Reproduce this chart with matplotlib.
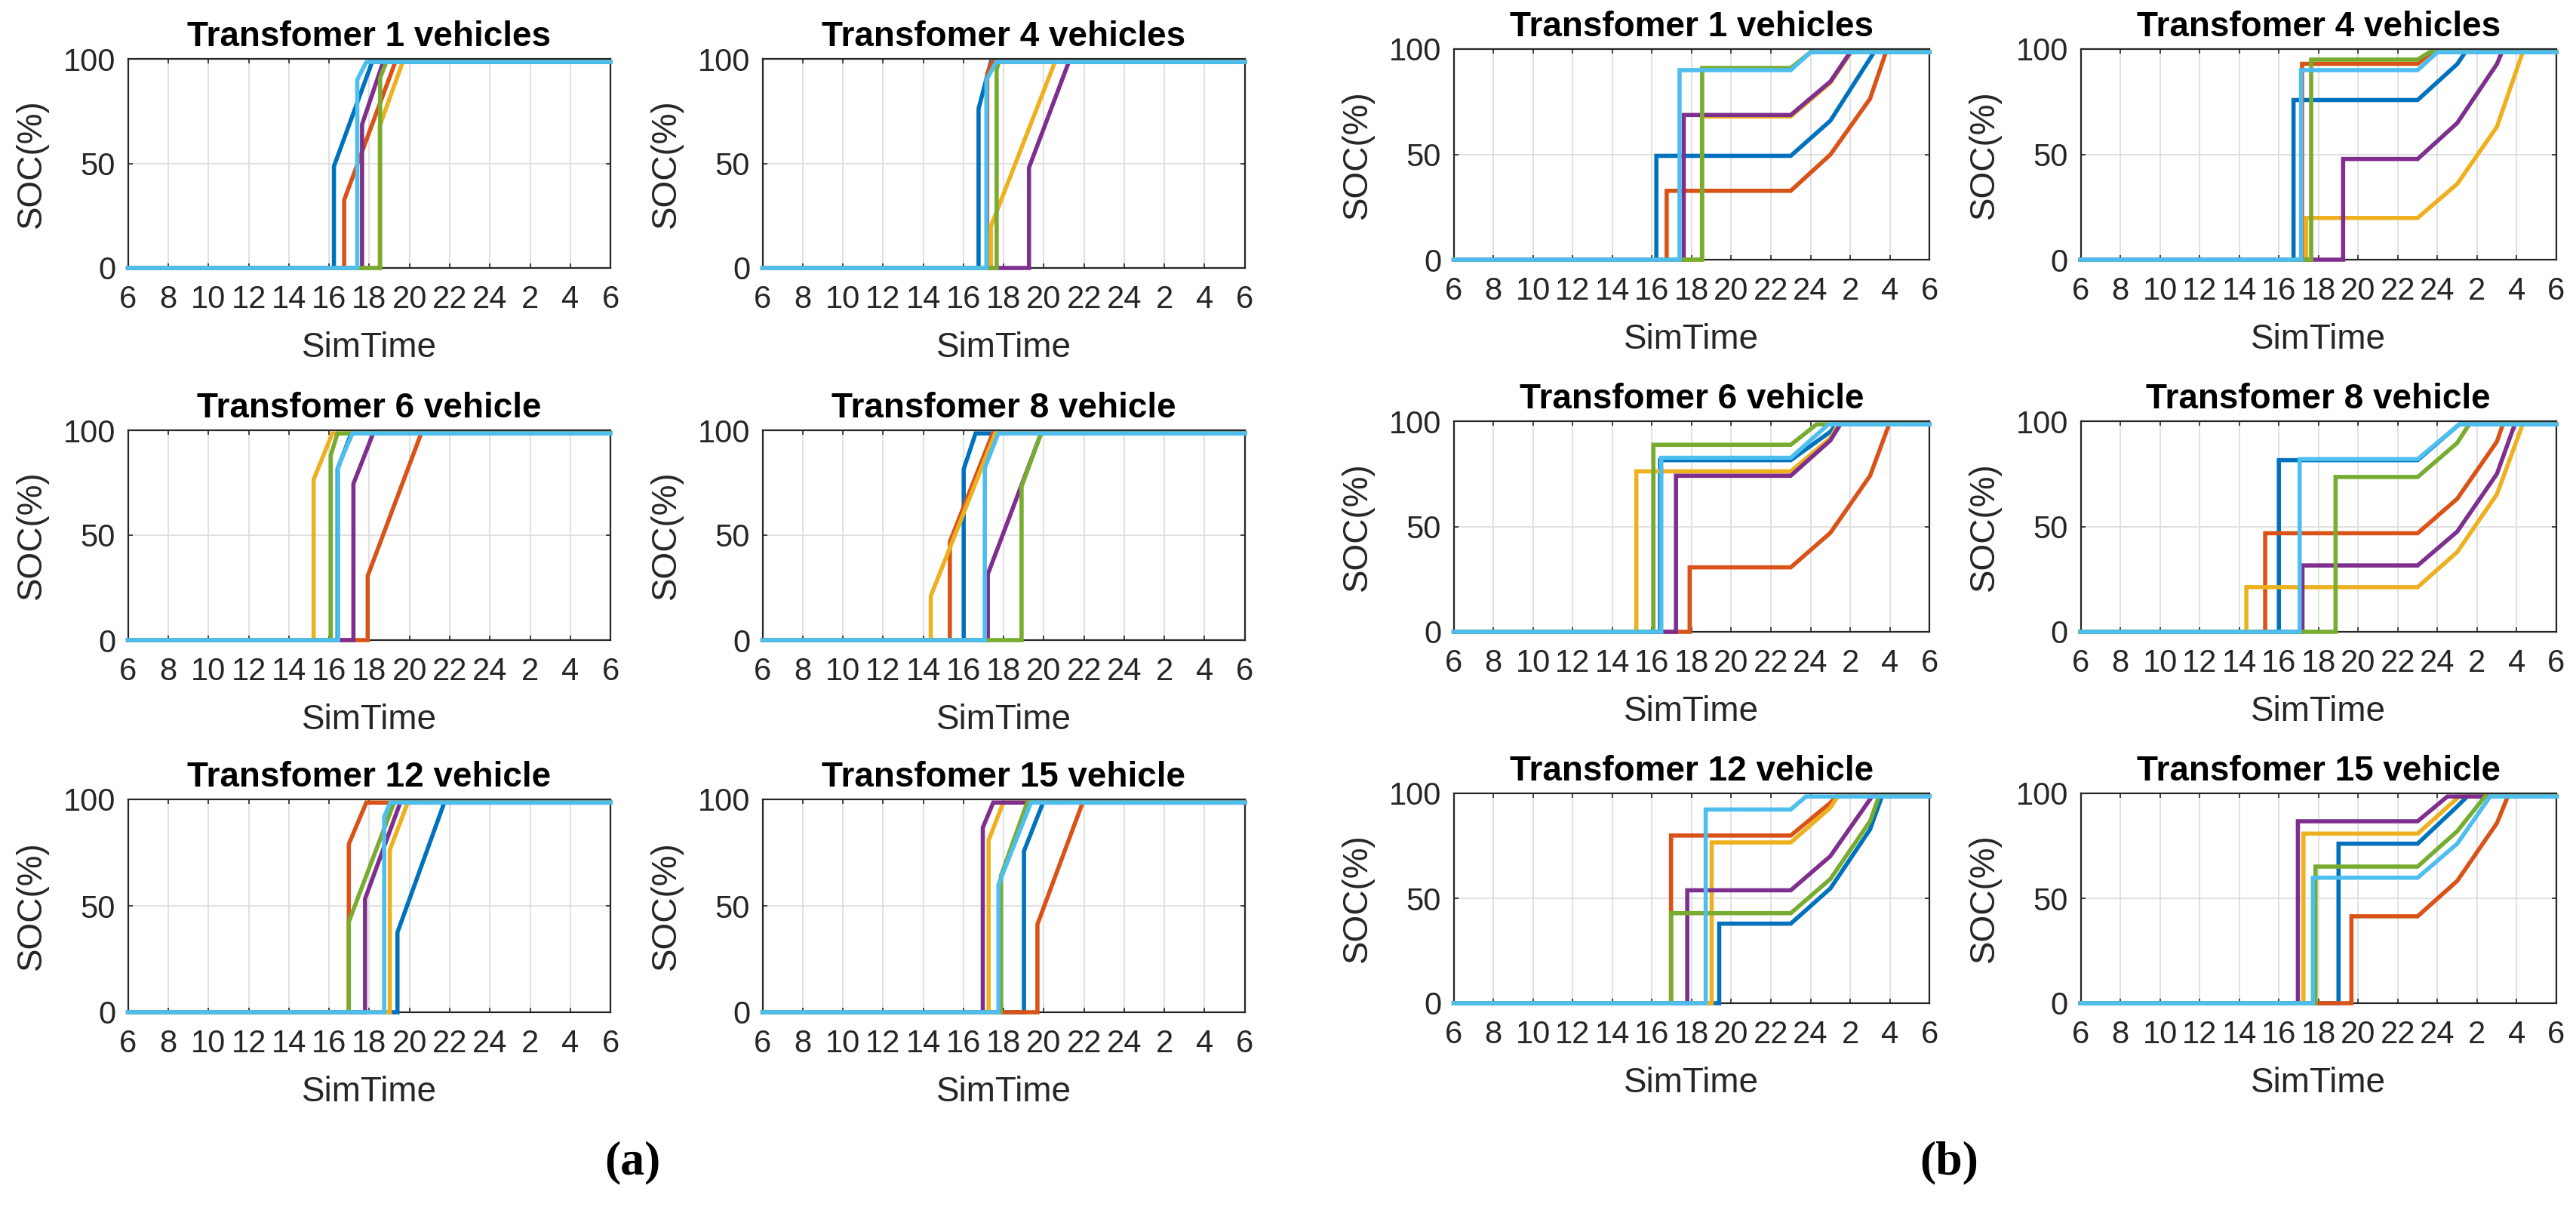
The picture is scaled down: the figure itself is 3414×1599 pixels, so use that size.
import matplotlib
matplotlib.use('Agg')
import matplotlib.pyplot as plt

plt.rcParams['font.family'] = ['Liberation Sans', 'DejaVu Sans']

# MATLAB default line colours, in plotting order
colors = ['#0072BD', '#D95319', '#EDB120', '#7E2F8E', '#77AC30', '#4DBEEE']

xticks = [6, 8, 10, 12, 14, 16, 18, 20, 22, 24, 26, 28, 30]
xticklabels = ['6', '8', '10', '12', '14', '16', '18', '20', '22', '24', '2', '4', '6']
yticks = [0, 50, 100]

titles = ['Transfomer 1 vehicles', 'Transfomer 4 vehicles',
          'Transfomer 6 vehicle', 'Transfomer 8 vehicle',
          'Transfomer 12 vehicle', 'Transfomer 15 vehicle']

# (a) uncontrolled charging: order blue, orange, yellow, purple, green, cyan
a1_x = [[6, 16.24, 16.24, 18.14, 30], [6, 16.75, 16.75, 19.29, 30], [6, 18.52, 18.52, 19.66, 30],
        [6, 17.64, 17.64, 18.69, 30], [6, 18.54, 18.54, 18.85, 30], [6, 17.40, 17.40, 17.85, 30]]
a1_y = [[0, 0, 48.6, 98.5, 98.5], [0, 0, 32.5, 98.5, 98.5], [0, 0, 68, 98.5, 98.5],
        [0, 0, 68.7, 98.5, 98.5], [0, 0, 91, 98.5, 98.5], [0, 0, 90, 98.5, 98.5]]

a2_x = [[6, 16.75, 16.75, 17.36, 30], [6, 17.18, 17.18, 17.42, 30], [6, 17.36, 17.36, 20.55, 30],
        [6, 19.26, 19.26, 21.24, 30], [6, 17.65, 17.65, 17.76, 30], [6, 17.14, 17.14, 17.63, 30]]
a2_y = [[0, 0, 76.2, 98.5, 98.5], [0, 0, 93, 98.5, 98.5], [0, 0, 19.8, 98.5, 98.5],
        [0, 0, 48, 98.5, 98.5], [0, 0, 95, 98.5, 98.5], [0, 0, 90, 98.5, 98.5]]

a3_x = [[6, 16.42, 16.42, 17.1, 30], [6, 17.92, 17.92, 20.58, 30], [6, 15.23, 15.23, 16.16, 30],
        [6, 17.21, 17.21, 18.19, 30], [6, 16.08, 16.08, 16.42, 30], [6, 16.45, 16.45, 17.16, 30]]
a3_y = [[0, 0, 81.5, 98.5, 98.5], [0, 0, 30.6, 98.5, 98.5], [0, 0, 76.5, 98.5, 98.5],
        [0, 0, 74.5, 98.5, 98.5], [0, 0, 88, 98.5, 98.5], [0, 0, 82.7, 98.5, 98.5]]

a4_x = [[6, 16.01, 16.01, 16.6, 30], [6, 15.32, 15.32, 17.45, 30], [6, 14.37, 14.37, 17.58, 30],
        [6, 17.21, 17.21, 19.86, 30], [6, 18.89, 18.89, 19.86, 30], [6, 17.06, 17.06, 17.73, 30]]
a4_y = [[0, 0, 81.5, 98.5, 98.5], [0, 0, 46.8, 98.5, 98.5], [0, 0, 21, 98.5, 98.5],
        [0, 0, 31.4, 98.5, 98.5], [0, 0, 73.2, 98.5, 98.5], [0, 0, 82, 98.5, 98.5]]

a5_x = [[6, 19.40, 19.40, 21.73, 30], [6, 16.98, 16.98, 17.85, 30], [6, 19.02, 19.02, 19.91, 30],
        [6, 17.79, 17.79, 19.54, 30], [6, 16.98, 16.98, 19.23, 30], [6, 18.74, 18.74, 19.04, 30]]
a5_y = [[0, 0, 37.5, 98.5, 98.5], [0, 0, 79, 98.5, 98.5], [0, 0, 76.2, 98.5, 98.5],
        [0, 0, 53.3, 98.5, 98.5], [0, 0, 42.5, 98.5, 98.5], [0, 0, 91.8, 98.5, 98.5]]

a6_x = [[6, 19.01, 19.01, 19.96, 30], [6, 19.68, 19.68, 21.93, 30], [6, 17.25, 17.25, 17.98, 30],
        [6, 16.96, 16.96, 17.48, 30], [6, 17.86, 17.86, 19.17, 30], [6, 17.74, 17.74, 19.36, 30]]
a6_y = [[0, 0, 75.7, 98.5, 98.5], [0, 0, 41.3, 98.5, 98.5], [0, 0, 80.8, 98.5, 98.5],
        [0, 0, 86.7, 98.5, 98.5], [0, 0, 64, 98.5, 98.5], [0, 0, 60, 98.5, 98.5]]

# (b) delayed charging
b1_x = [[6, 16.22, 16.22, 23, 25, 27, 27.2, 30], [6, 16.74, 16.74, 23, 25, 27, 27.8, 30],
        [6, 18.52, 18.52, 23, 25, 26.05, 30], [6, 17.6, 17.6, 23, 25, 26.0, 30],
        [6, 18.53, 18.53, 23, 24.0, 30], [6, 17.39, 17.39, 23, 24.0, 30]]
b1_y = [[0, 0, 49.3, 49.3, 66, 95.5, 98.5, 98.5], [0, 0, 32.7, 32.7, 49.9, 76.4, 98.5, 98.5],
        [0, 0, 68, 68, 84, 98.5, 98.5], [0, 0, 68.7, 68.7, 84.6, 98.5, 98.5],
        [0, 0, 91, 91, 98.5, 98.5], [0, 0, 90, 90, 98.5, 98.5]]

b2_x = [[6, 16.74, 16.74, 23, 25, 25.4, 30], [6, 17.17, 17.17, 23, 23.7, 30],
        [6, 17.38, 17.38, 23, 25, 27, 28.3, 30], [6, 19.24, 19.24, 23, 25, 27, 27.25, 30],
        [6, 17.63, 17.63, 23, 23.6, 30], [6, 17.12, 17.12, 23, 24.0, 30]]
b2_y = [[0, 0, 75.8, 75.8, 92.9, 98.5, 98.5], [0, 0, 93, 93, 98.5, 98.5],
        [0, 0, 19.8, 19.8, 36, 63.1, 98.5, 98.5], [0, 0, 47.8, 47.8, 64.9, 92.9, 98.5, 98.5],
        [0, 0, 95, 95, 98.5, 98.5], [0, 0, 90, 90, 98.5, 98.5]]

b3_x = [[6, 16.41, 16.41, 23, 25, 25.3, 30], [6, 17.9, 17.9, 23, 25, 27, 27.96, 30],
        [6, 15.21, 15.21, 23, 25, 25.4, 30], [6, 17.21, 17.21, 23, 25, 25.5, 30],
        [6, 16.07, 16.07, 23, 24.3, 30], [6, 16.47, 16.47, 23, 24.9, 30]]
b3_y = [[0, 0, 81.5, 81.5, 95, 98.5, 98.5], [0, 0, 30.6, 30.6, 47, 74.1, 98.5, 98.5],
        [0, 0, 76.2, 76.2, 92, 98.5, 98.5], [0, 0, 74.1, 74.1, 90.9, 98.5, 98.5],
        [0, 0, 88.8, 88.8, 98.5, 98.5], [0, 0, 82.6, 82.6, 98.5, 98.5]]

b4_x = [[6, 16.0, 16.0, 23, 25.1, 30], [6, 15.31, 15.31, 23, 25, 27, 27.3, 30],
        [6, 14.36, 14.36, 23, 25, 27, 28.3, 30], [6, 17.19, 17.19, 23, 25, 27, 27.9, 30],
        [6, 18.86, 18.86, 23, 25, 25.6, 30], [6, 17.05, 17.05, 23, 25.1, 30]]
b4_y = [[0, 0, 81.5, 81.5, 98.5, 98.5], [0, 0, 46.8, 46.8, 63.2, 90.3, 98.5, 98.5],
        [0, 0, 21.2, 21.2, 37.9, 65.3, 98.5, 98.5], [0, 0, 31.5, 31.5, 47.6, 75, 98.5, 98.5],
        [0, 0, 73.5, 73.5, 89.7, 98.5, 98.5], [0, 0, 82, 82, 98.5, 98.5]]

b5_x = [[6, 19.39, 19.39, 23, 25, 27, 27.6, 30], [6, 16.96, 16.96, 23, 25, 25.3, 30],
        [6, 19.01, 19.01, 23, 25, 25.36, 30], [6, 17.78, 17.78, 23, 25, 27.1, 30],
        [6, 16.96, 16.96, 23, 25, 27, 27.45, 30], [6, 18.71, 18.71, 23, 23.77, 30]]
b5_y = [[0, 0, 37.9, 37.9, 54.7, 82.8, 98.5, 98.5], [0, 0, 79.9, 79.9, 95.5, 98.5, 98.5],
        [0, 0, 76.6, 76.6, 93.2, 98.5, 98.5], [0, 0, 53.8, 53.8, 70.1, 98.5, 98.5],
        [0, 0, 42.9, 42.9, 59.2, 86.7, 98.5, 98.5], [0, 0, 92.3, 92.3, 98.5, 98.5]]

b6_x = [[6, 19.01, 19.01, 23, 25, 25.5, 30], [6, 19.66, 19.66, 23, 25, 27, 27.55, 30],
        [6, 17.24, 17.24, 23, 25.1, 30], [6, 16.96, 16.96, 23, 24.5, 30],
        [6, 17.85, 17.85, 23, 25, 26.4, 30], [6, 17.72, 17.72, 23, 25, 26.66, 30]]
b6_y = [[0, 0, 76, 76, 93.8, 98.5, 98.5], [0, 0, 41.4, 41.4, 58.3, 85.8, 98.5, 98.5],
        [0, 0, 80.8, 80.8, 98.5, 98.5], [0, 0, 86.7, 86.7, 98.5, 98.5],
        [0, 0, 65.1, 65.1, 82, 98.5, 98.5], [0, 0, 59.8, 59.8, 76, 98.5, 98.5]]

panels_a = [(a1_x, a1_y), (a2_x, a2_y), (a3_x, a3_y), (a4_x, a4_y), (a5_x, a5_y), (a6_x, a6_y)]
panels_b = [(b1_x, b1_y), (b2_x, b2_y), (b3_x, b3_y), (b4_x, b4_y), (b5_x, b5_y), (b6_x, b6_y)]

W, H = 3414, 1599
fig = plt.figure(figsize=(W / 100, H / 100), dpi=100)

# axes boxes in pixels: (left, width) per column, (top, bottom) per row
cols_a = [(169.7, 639.5), (1010.7, 639.0)]
rows_a = [(78, 355), (570, 848), (1059, 1341)]
cols_b = [(1926.7, 630.5), (2757.5, 630.5)]
rows_b = [(65, 344), (558, 837), (1051, 1329)]

dark = '#262626'


def draw_panel(left, width, top, bottom, xs, ys, title):
    ax = fig.add_axes([left / W, 1 - bottom / H, width / W, (bottom - top) / H])
    for x, y, c in zip(xs, ys, colors):
        ax.plot(x, y, color=c, lw=4.0, clip_on=False, zorder=3, solid_joinstyle='miter')
    ax.set_xlim(6, 30)
    ax.set_ylim(0, 100)
    ax.set_xticks(xticks)
    ax.set_xticklabels(xticklabels)
    ax.set_yticks(yticks)
    ax.grid(True, color='#dcdcdc', lw=1.2)
    ax.set_axisbelow(True)
    ax.tick_params(direction='in', length=4.5, width=1.2, top=True, right=True,
                   labelsize=30, colors=dark)
    ax.tick_params(axis='x', pad=16)
    ax.tick_params(axis='y', pad=12)
    for s in ax.spines.values():
        s.set_color(dark)
        s.set_linewidth(1.6)
    h = bottom - top
    ax.set_xlabel('SimTime', fontsize=33, color=dark)
    ax.xaxis.set_label_coords(0.5, -106 / h)
    ax.xaxis.label.set_va('center')
    ax.set_ylabel('SOC(%)', fontsize=33, color=dark)
    ax.yaxis.set_label_coords(-128 / width, 0.5)
    ax.yaxis.label.set_va('center')
    ax.set_title(title, fontsize=33, fontweight='bold', y=1 + 29 / h, va='center', pad=0)
    return ax


for i, (xs, ys) in enumerate(panels_a):
    left, width = cols_a[i % 2]
    top, bottom = rows_a[i // 2]
    draw_panel(left, width, top, bottom, xs, ys, titles[i])

for i, (xs, ys) in enumerate(panels_b):
    left, width = cols_b[i % 2]
    top, bottom = rows_b[i // 2]
    draw_panel(left, width, top, bottom, xs, ys, titles[i])

fig.text(838 / W, 1 - 1540 / H, '(a)', fontsize=46, fontweight='bold',
         family=['Liberation Serif', 'DejaVu Serif'], ha='center', va='center')
fig.text(2583 / W, 1 - 1540 / H, '(b)', fontsize=46, fontweight='bold',
         family=['Liberation Serif', 'DejaVu Serif'], ha='center', va='center')

fig.savefig('out.png', dpi=100)
